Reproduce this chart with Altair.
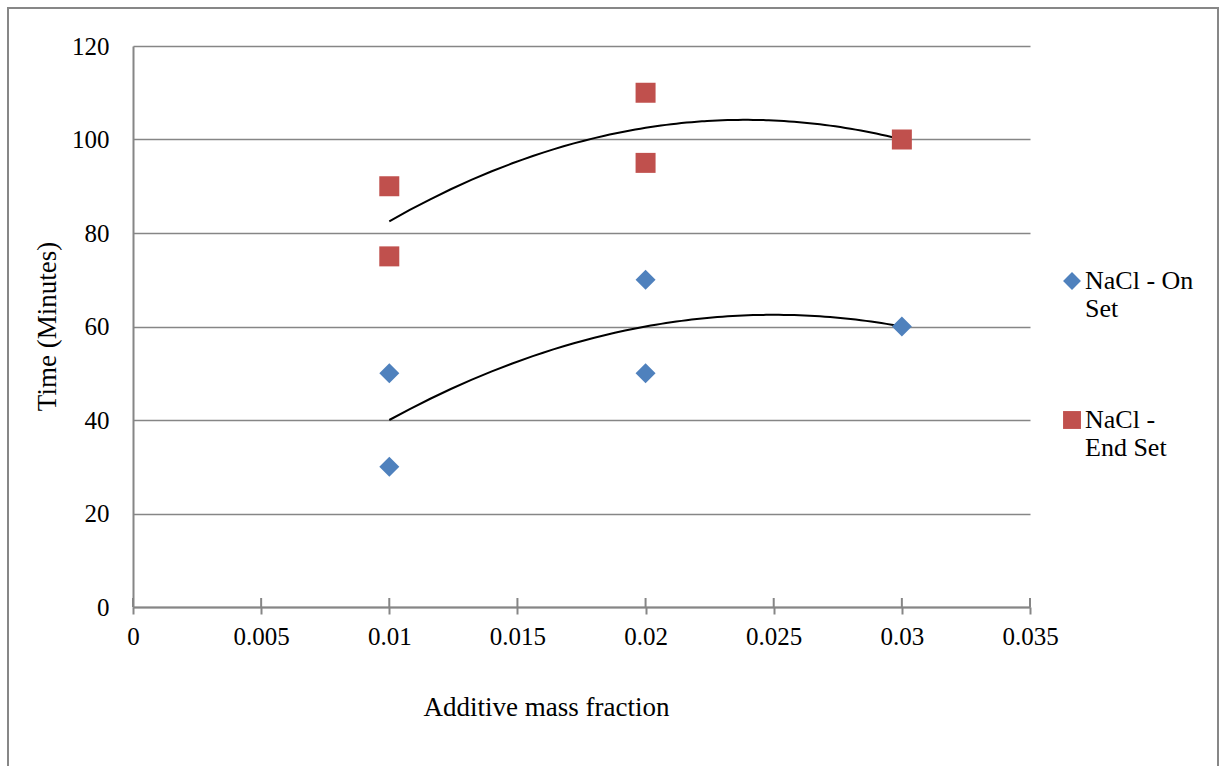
import altair as alt
import pandas as pd

# Additive mass fraction for each test, and set times in minutes
mass_fraction = [0.01, 0.01, 0.02, 0.02, 0.03]
on_set_minutes = [50, 30, 70, 50, 60]
end_set_minutes = [90, 75, 110, 95, 100]
series_names = ["NaCl - On Set", "NaCl - End Set"]
series_colors = ["#4F81BD", "#C0504D"]
series_shapes = ["diamond", "square"]

x_ticks = [0, 0.005, 0.01, 0.015, 0.02, 0.025, 0.03, 0.035]
y_ticks = [0, 20, 40, 60, 80, 100, 120]

df = pd.DataFrame({
    "fraction": mass_fraction * 2,
    "minutes": on_set_minutes + end_set_minutes,
    "series": [series_names[0]] * len(mass_fraction) + [series_names[1]] * len(mass_fraction),
})
tick_df = pd.DataFrame({"fraction": x_ticks})

FONT = "Liberation Serif"
GRID = "#868686"
PLOT_W, PLOT_H = 897, 561

x_enc = alt.X(
    "fraction:Q",
    scale=alt.Scale(domain=[0, 0.035], nice=False, zero=True),
    axis=alt.Axis(values=x_ticks, format="~g", title="Additive mass fraction",
                  grid=False, ticks=True, tickSize=7, tickColor=GRID, tickWidth=2,
                  domainColor=GRID, domainWidth=2, labelPadding=10, labelFlush=False,
                  titleX=413, titleY=100, titleAlign="center", titleBaseline="middle"),
)
y_enc = alt.Y(
    "minutes:Q",
    scale=alt.Scale(domain=[0, 120], nice=False),
    axis=alt.Axis(values=y_ticks, title="Time (Minutes)", grid=True, gridColor=GRID,
                  gridWidth=1.5, ticks=False, domainColor=GRID, domainWidth=2,
                  labelPadding=24, labelFlush=False, titleX=-86, titleY=280, titleAngle=270,
                  titleAlign="center", titleBaseline="middle"),
)

label_expr = ("datum.label == 'NaCl - On Set' ? ['NaCl - On', 'Set'] : "
              "['NaCl -', 'End Set']")

points = alt.Chart(df).mark_point(filled=True, opacity=1, size=400).encode(
    x=x_enc,
    y=y_enc,
    color=alt.Color("series:N", scale=alt.Scale(domain=series_names, range=series_colors),
                    legend=alt.Legend(title=None, orient="none", legendX=926, legendY=222,
                                      symbolSize=320, rowPadding=85, labelOffset=0,
                                      labelExpr=label_expr, labelBaseline="middle",
                                      labelLimit=200)),
    shape=alt.Shape("series:N", scale=alt.Scale(domain=series_names, range=series_shapes)),
)

# Second-order polynomial trendline for each series
trend = alt.Chart(df).transform_regression(
    "fraction", "minutes", groupby=["series"], method="poly", order=2
).mark_line(color="black", strokeWidth=2).encode(
    x=x_enc,
    y=y_enc,
    detail="series:N",
)

# Upper half of the crossing tick marks on the x axis
cross_ticks = alt.Chart(tick_df).mark_rule(color=GRID, strokeWidth=2).encode(
    x=x_enc,
    y=alt.value(PLOT_H - 9),
    y2=alt.value(PLOT_H),
)

frame = alt.Chart(pd.DataFrame({"frame": [0]})).mark_rect(
    fill=None, stroke="#878787", strokeWidth=2
).encode(
    x=alt.value(-125), x2=alt.value(1085), y=alt.value(-38), y2=alt.value(800)
)

chart = alt.layer(frame, cross_ticks, trend, points).properties(
    width=PLOT_W, height=PLOT_H,
    padding={"left": 133, "top": 46, "right": 192, "bottom": 159},
    autosize=alt.AutoSizeParams(type="none"),
).configure_view(stroke=None).configure_axis(
    labelFont=FONT, titleFont=FONT, labelFontSize=25, titleFontSize=27,
    labelColor="black", titleColor="black", titleFontWeight="normal",
).configure_legend(labelFont=FONT, labelFontSize=26, labelColor="black")

chart.save("out.html", embed_options={"renderer": "svg", "actions": False})
